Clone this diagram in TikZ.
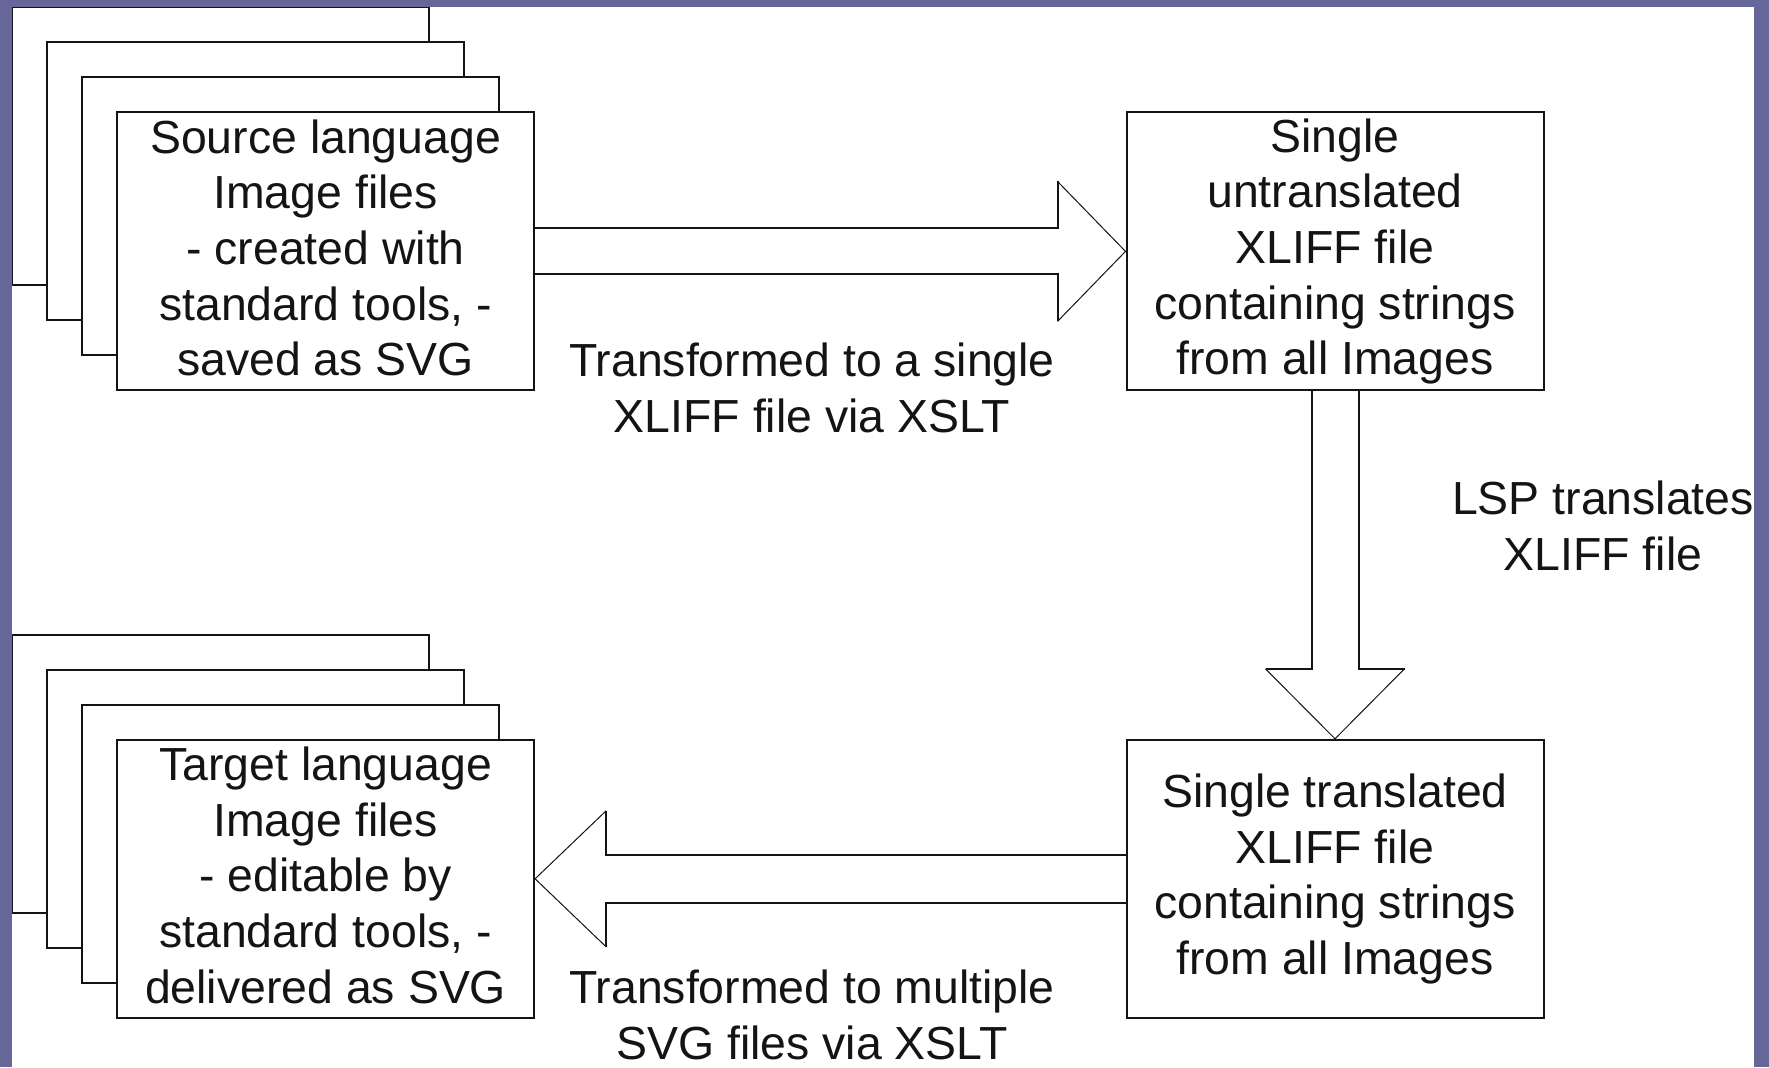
\documentclass[tikz,border=0pt]{standalone}
\usepackage{fontspec}
\setmainfont{Liberation Sans}
\usetikzlibrary{calc}
\definecolor{frame}{RGB}{102,102,153}
\definecolor{ink}{RGB}{20,20,20}
\tikzset{
  boxnode/.style={draw=ink, line width=1pt, fill=white, rectangle, minimum width=208.5pt, minimum height=139pt, inner sep=0pt, align=center, text=ink, font=\fontsize{23.2}{27.8}\selectfont},
  stackbox/.style={draw=ink, line width=1pt, fill=white, rectangle, minimum width=208.5pt, minimum height=139pt, inner sep=0pt},
  lbl/.style={align=center, inner sep=0pt, text=ink, font=\fontsize{23.2}{27.8}\selectfont},
  heavy/.style={draw=ink, line width=1pt},
  light/.style={draw=ink, line width=0.5pt}
}
\begin{document}
\begin{tikzpicture}[x=0.5pt, y=-0.5pt]
\useasboundingbox (0,0) rectangle (1769,1067);
\fill[white] (0,0) rectangle (1769,1067);

% source stack
\node[stackbox] (s1) at (220.6,146.4) {};
\node[stackbox] (s2) at (255.6,181.4) {};
\node[stackbox] (s3) at (290.6,216.4) {};
\node[stackbox] (src) at (325.6,251.4) {};
\node[lbl] (srctext) at ($(src.center)+(0,-3.5)$) {Source language\\Image files\\- created with\\standard tools, -\\saved as SVG};

% target stack
\node[stackbox] (t1) at (220.6,773.8) {};
\node[stackbox] (t2) at (255.6,808.8) {};
\node[stackbox] (t3) at (290.6,843.8) {};
\node[stackbox] (tgt) at (325.6,878.8) {};
\node[lbl] (tgttext) at ($(tgt.center)+(0,-3.5)$) {Target language\\Image files\\- editable by\\standard tools, -\\delivered as SVG};

% right boxes
\node[boxnode] (xl1) at (1335,251.4) {Single\\untranslated\\XLIFF file\\containing strings\\from all Images};
\node[boxnode] (xl2) at (1335,878.8) {Single translated\\XLIFF file\\containing strings\\from all Images};

% arrow src -> xl1
\draw[heavy] ($(src.east)+(0,-23)$) -- ($(xl1.west)+(-68,-23)$) -- ($(xl1.west)+(-68,-70)$);
\draw[light] ($(xl1.west)+(-68,-70)$) -- (xl1.west) -- ($(xl1.west)+(-68,70)$);
\draw[heavy] ($(xl1.west)+(-68,70)$) -- ($(xl1.west)+(-68,23)$) -- ($(src.east)+(0,23)$);

% arrow xl1 -> xl2
\draw[heavy] ($(xl1.south)+(-23.5,0)$) -- ($(xl2.north)+(-23.5,-70)$) -- ($(xl2.north)+(-69.5,-70)$);
\draw[light] ($(xl2.north)+(-69.5,-70)$) -- (xl2.north) -- ($(xl2.north)+(69.5,-70)$);
\draw[heavy] ($(xl2.north)+(69.5,-70)$) -- ($(xl2.north)+(23.5,-70)$) -- ($(xl1.south)+(23.5,0)$);

% arrow xl2 -> tgt
\draw[heavy] ($(xl2.west)+(0,-24)$) -- ($(tgt.east)+(71,-24)$) -- ($(tgt.east)+(71,-68)$);
\draw[light] ($(tgt.east)+(71,-68)$) -- (tgt.east) -- ($(tgt.east)+(71,68)$);
\draw[heavy] ($(tgt.east)+(71,68)$) -- ($(tgt.east)+(71,24)$) -- ($(xl2.west)+(0,24)$);

% labels
\node[lbl] (l1) at (812,388) {Transformed to a single\\XLIFF file via XSLT};
\node[lbl] (l2) at (812,1015) {Transformed to multiple\\SVG files via XSLT};
\node[lbl] (l3) at (1603,526) {LSP translates\\XLIFF file};

% frame
\fill[frame] (0,0) rectangle (1769,7);
\fill[frame] (0,0) rectangle (11.5,1067);
\fill[frame] (1754,0) rectangle (1769,1067);
\end{tikzpicture}
\end{document}
